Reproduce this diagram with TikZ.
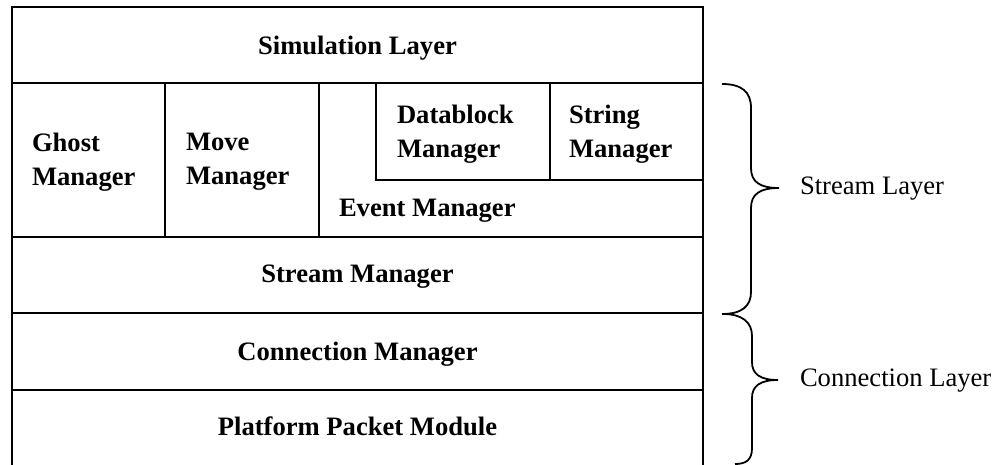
\documentclass[tikz,border=0pt]{standalone}
\usepackage{fontspec}
\setmainfont{Liberation Serif}
\begin{document}
\begin{tikzpicture}[x=1pt,y=-1pt,line width=2pt,
  lbl/.style={font=\fontsize{26.6}{34}\selectfont\bfseries,inner sep=0pt,align=left,anchor=west},
  ctr/.style={font=\fontsize{26.6}{34}\selectfont\bfseries,inner sep=0pt,anchor=base},
  side/.style={font=\fontsize{26.6}{34}\selectfont,inner sep=0pt,anchor=base west},
  bracepath/.style={line width=1.8pt}]
\useasboundingbox (0,0) rectangle (997,465);
% frame and layers
\draw (12,465) -- (12,7) -- (703,7) -- (703,465);
\draw (12,83) -- (703,83);
\draw (12,237) -- (703,237);
\draw (12,313) -- (703,313);
\draw (12,390) -- (703,390);
\draw (165,83) -- (165,237);
\draw (319,83) -- (319,237);
\draw (376,83) -- (376,180) -- (703,180);
\draw (550,83) -- (550,180);
% texts
\node[ctr] (sim) at (357.5,55) {Simulation Layer};
\node[lbl] (ghost) at (31,162) {Ghost\\Manager};
\node[lbl] (move) at (185,162) {Move\\Manager};
\node[lbl] (datablock) at (396,134) {Datablock\\Manager};
\node[lbl] (string) at (568,134) {String\\Manager};
\node[ctr,anchor=base west] (event) at (338,217) {Event Manager};
\node[ctr] (streammgr) at (357.5,283) {Stream Manager};
\node[ctr] (connmgr) at (357.5,360) {Connection Manager};
\node[ctr] (platform) at (357.5,435) {Platform Packet Module};
% braces
\coordinate (s1) at (722,84);
\coordinate (s2) at (722,314);
\coordinate (stip) at (779,188);
\draw[bracepath] (s1) .. controls (742,84) and (751,92) .. (751,108) -- (751,168)
  .. controls (751,182) and (760,188) .. (stip)
  .. controls (760,188) and (751,194) .. (751,208) -- (751,292)
  .. controls (751,306) and (742,314) .. (s2);
\coordinate (c1) at (723,314);
\coordinate (c2) at (735,464);
\coordinate (ctip) at (778,380);
\draw[bracepath] (c1) .. controls (742,314) and (752,322) .. (752,336) -- (752,362)
  .. controls (752,374) and (760,380) .. (ctip)
  .. controls (760,380) and (752,386) .. (752,398) -- (752,448)
  .. controls (752,460) and (746,464) .. (c2);
\node[side] (streamlayer) at (799,195) {Stream Layer};
\node[side] (connlayer) at (799,387) {Connection Layer};
\end{tikzpicture}
\end{document}
